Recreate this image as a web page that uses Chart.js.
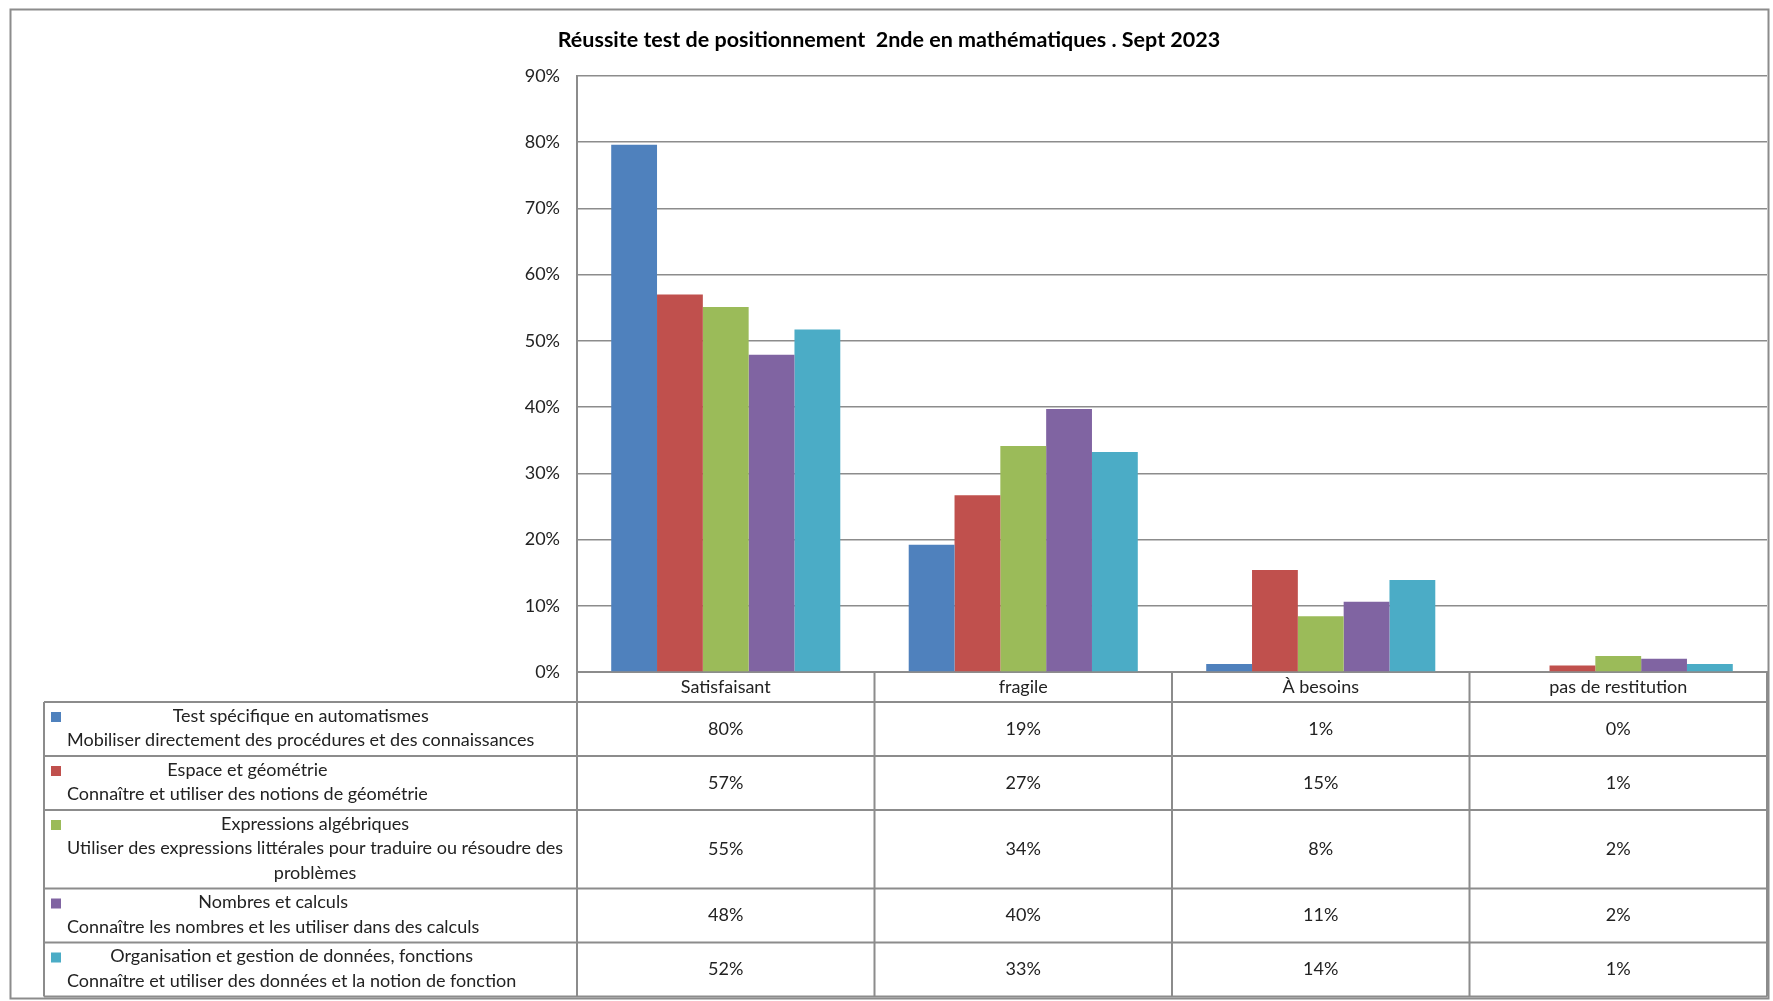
<!DOCTYPE html>
<html>
<head>
<meta charset="utf-8">
<script src="https://cdn.jsdelivr.net/npm/chart.js@4.4.0/dist/chart.umd.min.js"></script>
<style>
  body { margin: 0; background: #fff; }
  #wrap { width: 1773px; height: 1001px; }
</style>
</head>
<body>
<div id="wrap"><canvas id="positionChart" width="1773" height="1001"></canvas></div>
<script>
// Categories (x axis / table header)
const categories = ['Satisfaisant', 'fragile', 'À besoins', 'pas de restitution'];

// Series values in %
const automatismes = [79.6, 19.2, 1.2, 0];
const geometrie = [57.0, 26.7, 15.4, 1.0];
const algebre = [55.1, 34.1, 8.4, 2.4];
const calculs = [47.9, 39.7, 10.6, 2.0];
const fonctions = [51.7, 33.2, 13.9, 1.2];

// Series labels, as shown in the data table (one entry per line)
const automatismesLabel = ['Test spécifique en automatismes', 'Mobiliser directement des procédures et des connaissances'];
const geometrieLabel = ['Espace et géométrie', 'Connaître et utiliser des notions de géométrie'];
const algebreLabel = ['Expressions algébriques', 'Utiliser des expressions littérales pour traduire ou résoudre des', 'problèmes'];
const calculsLabel = ['Nombres et calculs', 'Connaître les nombres et les utiliser dans des calculs'];
const fonctionsLabel = ['Organisation et gestion de données, fonctions', 'Connaître et utiliser des données et la notion de fonction'];

const yTicks = [0, 10, 20, 30, 40, 50, 60, 70, 80, 90];

const colors = ['#4F81BD', '#C0504D', '#9BBB59', '#8064A2', '#4BACC6'];
const seriesValues = [automatismes, geometrie, algebre, calculs, fonctions];
const seriesLabels = [automatismesLabel, geometrieLabel, algebreLabel, calculsLabel, fonctionsLabel];

const FONT = 'Lato';
const LINE_COLOR = '#8c8c8c';
const TEXT_COLOR = '#222';

// Draws the data table under the plot + the outer chart border
const dataTablePlugin = {
    id: 'dataTable',
    afterDraw(chart) {
        const ctx = chart.ctx;
        const area = chart.chartArea;
        const step = (area.right - area.left) / categories.length;
        const tableLeft = 44;
        const headerBottom = area.bottom + 30;

        const rowTops = [headerBottom];
        seriesLabels.forEach(lines => {
            rowTops.push(rowTops[rowTops.length - 1] + lines.length * 24.5 + 5);
        });
        const tableBottom = rowTops[rowTops.length - 1];

        ctx.save();
        ctx.strokeStyle = LINE_COLOR;
        ctx.lineWidth = 2;
        ctx.beginPath();
        rowTops.forEach(y => {
            ctx.moveTo(tableLeft, y);
            ctx.lineTo(area.right, y);
        });
        for (let i = 0; i <= categories.length; i++) {
            const cx = area.left + i * step;
            ctx.moveTo(cx, area.bottom);
            ctx.lineTo(cx, tableBottom);
        }
        ctx.moveTo(tableLeft, headerBottom);
        ctx.lineTo(tableLeft, tableBottom);
        ctx.stroke();

        // outer border of the chart
        ctx.strokeRect(10.5, 9.5, 1758, 989);

        ctx.font = '18px ' + FONT;
        ctx.fillStyle = TEXT_COLOR;
        ctx.textBaseline = 'middle';

        seriesLabels.forEach((lines, s) => {
            const top = rowTops[s];
            const bottom = rowTops[s + 1];

            // legend key
            ctx.fillStyle = colors[s];
            ctx.fillRect(51, top + 10, 10, 10);

            // label block: left aligned, lines centered on the widest one
            ctx.fillStyle = TEXT_COLOR;
            ctx.textAlign = 'center';
            const maxW = Math.max(...lines.map(l => ctx.measureText(l).width));
            const blockLeft = 67;
            lines.forEach((line, i) => {
                ctx.fillText(line, blockLeft + maxW / 2, top + 14 + i * 24.5);
            });

            // values
            seriesValues[s].forEach((v, c) => {
                const cx = area.left + (c + 0.5) * step;
                ctx.fillText(Math.round(v) + '%', cx, (top + bottom) / 2);
            });
        });
        ctx.restore();
    }
};

const ctx = document.getElementById('positionChart').getContext('2d');
new Chart(ctx, {
    type: 'bar',
    data: {
        labels: categories,
        datasets: seriesValues.map((vals, i) => ({
            label: seriesLabels[i].join(' - '),
            data: vals,
            backgroundColor: colors[i],
            borderWidth: 0,
            categoryPercentage: 0.77,
            barPercentage: 1.0
        }))
    },
    options: {
        responsive: false,
        animation: false,
        devicePixelRatio: 1,
        layout: {
            padding: { left: 11, right: 6, top: 0, bottom: 299 }
        },
        plugins: {
            legend: { display: false },
            tooltip: { enabled: false },
            title: {
                display: true,
                text: 'Réussite test de positionnement  2nde en mathématiques . Sept 2023',
                color: '#000',
                font: { family: FONT, size: 21.5, weight: 'bold' },
                padding: { top: 27, bottom: 23 }
            }
        },
        scales: {
            x: {
                grid: { display: false, drawTicks: false },
                border: { display: true, color: LINE_COLOR, width: 2 },
                ticks: {
                    color: TEXT_COLOR,
                    font: { family: FONT, size: 18 },
                    padding: 4,
                    maxRotation: 0
                },
                afterFit(scale) { scale.height = 30; }
            },
            y: {
                min: 0,
                max: 90,
                afterBuildTicks(scale) {
                    scale.ticks = yTicks.map(v => ({ value: v }));
                },
                grid: { color: LINE_COLOR, lineWidth: 1.5, drawTicks: false },
                border: { display: true, color: LINE_COLOR, width: 2 },
                ticks: {
                    color: TEXT_COLOR,
                    font: { family: FONT, size: 18 },
                    padding: 17,
                    callback: v => v + '%'
                },
                afterFit(scale) { scale.width = 566; }
            }
        }
    },
    plugins: [dataTablePlugin]
});
</script>
</body>
</html>
